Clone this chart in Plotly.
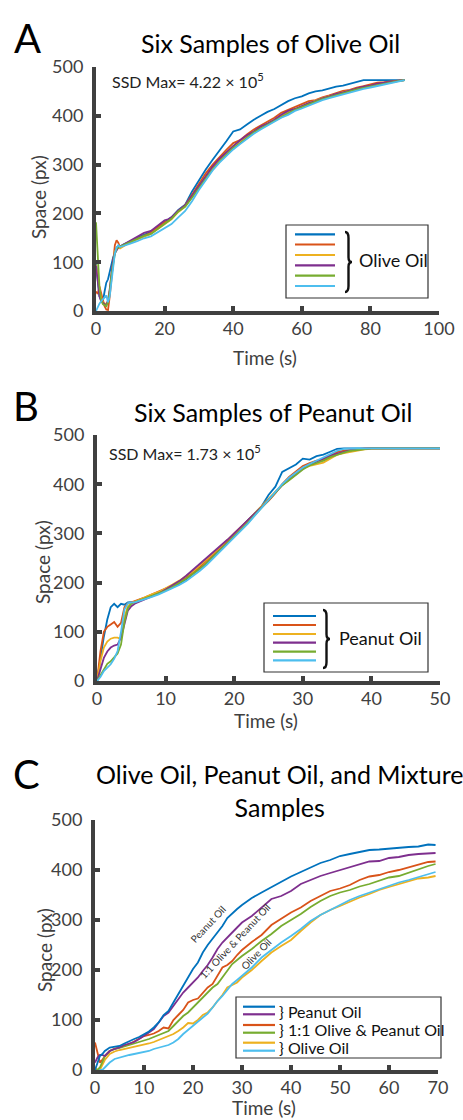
import plotly.graph_objects as go

# ---------------- DATA ----------------
# Panel A: six olive-oil samples
tA = [0, 0.5, 1, 1.5, 2, 2.5, 3, 3.5, 4, 4.5, 5, 5.5, 6, 6.5, 7, 8, 9, 10, 12, 14, 16, 18, 20, 21, 22, 24, 25, 26,
      28, 30, 32, 34, 36, 38, 40, 42, 44, 46, 48, 50, 52, 54, 56, 58, 60, 62, 64, 66, 68, 70, 72, 74, 76, 78, 80,
      82, 84, 86, 88, 90]
olive_A1 = [100, 60, 30, 22, 20, 40, 58, 65, 82, 98, 110, 118, 130, 133, 132, 136, 139, 143, 150, 156, 162, 172, 182,
            186, 192, 207, 212, 218, 245, 268, 290, 310, 328, 348, 368, 372, 382, 392, 400, 408, 414, 422, 430, 436,
            440, 446, 450, 452, 456, 460, 462, 466, 470, 473, 473, 473, 473, 473, 473, 473]
olive_A2 = [40, 35, 50, 35, 20, 10, 3, 2, 30, 70, 110, 135, 145, 140, 130, 134, 137, 141, 148, 154, 160, 172, 182, 184,
            190, 205, 211, 217, 238, 260, 282, 300, 316, 330, 344, 350, 362, 372, 380, 388, 396, 406, 412, 418, 425,
            430, 432, 438, 442, 446, 451, 453, 458, 461, 464, 468, 469, 471, 472, 473]
olive_A3 = [95, 70, 40, 25, 18, 15, 14, 20, 40, 75, 105, 122, 128, 130, 128, 133, 137, 141, 147, 153, 158, 168, 178,
            183, 188, 203, 208, 214, 234, 256, 276, 294, 310, 325, 338, 348, 358, 368, 376, 384, 392, 400, 407, 414,
            420, 425, 431, 436, 440, 444, 449, 452, 455, 458, 461, 464, 467, 469, 471, 473]
olive_A4 = [93, 55, 30, 20, 16, 14, 12, 22, 45, 80, 105, 118, 125, 130, 132, 136, 140, 145, 152, 160, 164, 176, 186,
            188, 192, 206, 212, 216, 236, 256, 276, 296, 312, 326, 338, 350, 360, 368, 378, 384, 392, 402, 410, 414,
            420, 426, 430, 436, 440, 445, 448, 452, 456, 460, 462, 466, 468, 470, 472, 473]
olive_A5 = [182, 110, 50, 22, 14, 12, 10, 18, 40, 72, 100, 118, 127, 131, 132, 135, 138, 142, 148, 154, 158, 168, 178,
            183, 189, 204, 209, 214, 232, 252, 272, 290, 306, 320, 334, 344, 356, 366, 374, 382, 390, 398, 405, 412,
            418, 424, 429, 434, 438, 442, 447, 450, 454, 457, 460, 463, 466, 468, 471, 473]
olive_A6 = [0, 8, 15, 20, 25, 28, 32, 18, 30, 60, 95, 118, 130, 135, 131, 133, 135, 138, 143, 149, 153, 161, 170, 174,
            178, 192, 198, 205, 225, 248, 268, 288, 304, 318, 331, 342, 353, 363, 372, 380, 388, 396, 402, 410, 415,
            421, 426, 432, 436, 440, 444, 448, 451, 455, 458, 461, 464, 467, 470, 473]

# Panel B: six peanut-oil samples
tB = [0, 0.5, 1, 1.5, 2, 2.5, 3, 3.5, 4, 4.5, 5, 5.5, 6, 7, 8, 9, 10, 11, 12, 13, 14, 15, 16, 17, 18, 19, 20, 21, 22,
      23, 24, 25, 26, 27, 28, 29, 30, 31, 32, 33, 34, 35, 36, 37, 38, 39, 40, 42, 44, 46, 48, 50]
peanut_B1 = [0, 45, 90, 125, 150, 157, 150, 157, 155, 160, 160, 161, 164, 169, 174, 178, 184, 190, 198, 207, 218, 228,
             240, 254, 267, 281, 296, 311, 327, 341, 355, 378, 395, 425, 432, 440, 452, 450, 457, 460, 466, 472, 473,
             473, 473, 473, 473, 473, 473, 473, 473, 473]
peanut_B2 = [0, 60, 100, 110, 115, 120, 110, 118, 150, 158, 160, 162, 165, 170, 176, 181, 188, 194, 202, 210, 221, 232,
             245, 258, 272, 285, 300, 313, 327, 340, 352, 366, 382, 400, 415, 426, 437, 443, 448, 450, 458, 465, 468,
             470, 472, 473, 473, 473, 473, 473, 473, 473]
peanut_B3 = [0, 40, 68, 80, 86, 88, 88, 85, 130, 152, 158, 161, 165, 170, 176, 181, 188, 196, 204, 213, 223, 235, 247,
             260, 273, 286, 298, 312, 326, 341, 356, 370, 385, 398, 410, 422, 432, 437, 440, 444, 452, 460, 463, 466,
             469, 471, 472, 473, 473, 473, 473, 473]
peanut_B4 = [0, 25, 47, 60, 68, 72, 74, 88, 115, 143, 152, 157, 160, 166, 172, 178, 186, 194, 203, 214, 226, 238, 250,
             262, 274, 287, 300, 313, 327, 341, 354, 368, 383, 398, 410, 420, 432, 440, 446, 452, 458, 462, 466, 469,
             471, 472, 473, 473, 473, 473, 473, 473]
peanut_B5 = [0, 12, 26, 35, 40, 48, 56, 74, 120, 148, 157, 160, 163, 168, 173, 178, 184, 191, 199, 208, 218, 228, 240,
             253, 266, 280, 294, 307, 322, 337, 352, 368, 384, 398, 408, 420, 430, 438, 443, 448, 455, 460, 464, 468,
             470, 472, 473, 473, 473, 473, 473, 473]
peanut_B6 = [0, 8, 20, 27, 34, 45, 61, 100, 145, 158, 160, 160, 162, 166, 171, 176, 182, 188, 195, 203, 213, 224, 236,
             250, 264, 278, 292, 305, 320, 336, 352, 367, 384, 400, 413, 424, 434, 441, 448, 455, 462, 468, 472, 473,
             473, 473, 473, 473, 473, 473, 473, 473]

# Panel C: olive, peanut and 1:1 mixture samples
tC = [0, 0.5, 1, 1.5, 2, 3, 4, 5, 6, 7, 8, 9, 10, 11, 12, 13, 14, 15, 16, 17, 18, 19, 20, 21, 22, 23, 24, 25, 26, 27,
      28, 29, 30, 32, 34, 36, 38, 40, 42, 44, 46, 48, 50, 52, 54, 56, 58, 60, 62, 64, 66, 68, 69.5]
peanut_C1 = [0, 15, 28, 32, 38, 45, 46, 48, 53, 58, 62, 66, 72, 77, 85, 95, 110, 118, 135, 152, 168, 186, 202, 215,
             235, 250, 262, 275, 288, 304, 314, 322, 330, 344, 355, 366, 376, 387, 396, 405, 414, 420, 428, 432, 436,
             440, 441, 443, 444, 446, 447, 451, 450]
peanut_C2 = [15, 25, 30, 30, 28, 38, 42, 45, 50, 53, 56, 62, 68, 75, 82, 95, 108, 115, 128, 142, 155, 165, 175, 185,
             198, 210, 225, 242, 255, 266, 275, 285, 295, 308, 325, 342, 348, 358, 372, 380, 388, 394, 400, 405, 412,
             417, 418, 424, 426, 430, 432, 434, 434]
mix_C1 = [55, 35, 15, 20, 28, 38, 43, 45, 48, 52, 57, 62, 68, 70, 73, 78, 85, 83, 100, 110, 120, 135, 140, 143, 155,
          165, 172, 190, 205, 210, 218, 230, 240, 256, 270, 290, 302, 315, 325, 338, 348, 358, 363, 370, 380, 387, 390,
          396, 400, 405, 410, 416, 417]
mix_C2 = [0, 0, 5, 18, 27, 38, 42, 44, 47, 50, 52, 55, 58, 62, 66, 70, 74, 78, 88, 98, 108, 115, 125, 135, 145, 157,
          165, 172, 185, 200, 212, 220, 228, 242, 258, 272, 288, 300, 312, 326, 338, 348, 355, 360, 367, 372, 378, 385,
          388, 395, 402, 408, 412]
olive_C1 = [5, 0, 0, 10, 20, 32, 37, 40, 42, 44, 46, 48, 50, 53, 56, 60, 64, 67, 72, 78, 85, 94, 93, 100, 110, 115,
            125, 138, 150, 165, 170, 175, 185, 200, 218, 235, 248, 260, 278, 295, 310, 320, 328, 337, 345, 352, 360,
            366, 372, 378, 383, 385, 388]
olive_C2 = [0, 0, 0, 0, 5, 15, 22, 25, 28, 30, 32, 34, 36, 38, 42, 45, 48, 50, 55, 62, 72, 80, 88, 96, 105, 113, 125,
            138, 148, 160, 172, 180, 188, 205, 225, 240, 255, 268, 282, 298, 310, 320, 330, 340, 348, 355, 362, 368,
            375, 380, 386, 392, 396]

xticks_A = [0, 20, 40, 60, 80, 100]
xticks_B = [0, 10, 20, 30, 40, 50]
xticks_C = [0, 10, 20, 30, 40, 50, 60, 70]
yticks = [0, 100, 200, 300, 400, 500]

titles = ["Six Samples of Olive Oil", "Six Samples of Peanut Oil", "Olive Oil, Peanut Oil, and Mixture<br>Samples"]
ssd_texts = ["SSD Max= 4.22 \u00d7 10<sup>5</sup>", "SSD Max= 1.73 \u00d7 10<sup>5</sup>"]

# ---------------- STYLE ----------------
W, H = 463, 1120
FONT = "Lato"
AX = "#404040"
C_BLUE, C_RED, C_YEL, C_PUR, C_GRN, C_CYN = "#0072BD", "#D95319", "#EDB120", "#7E2F8E", "#77AC30", "#4DBEEE"
six_colors = [C_BLUE, C_RED, C_YEL, C_PUR, C_GRN, C_CYN]


def px(x):
    return x / W


def py(y):
    return 1 - y / H


fig = go.Figure()

for ys, c in zip([olive_A1, olive_A2, olive_A3, olive_A4, olive_A5, olive_A6], six_colors):
    fig.add_trace(go.Scatter(x=tA, y=ys, mode="lines", line=dict(color=c, width=1.8),
                             xaxis="x", yaxis="y", showlegend=False))
for ys, c in zip([peanut_B1, peanut_B2, peanut_B3, peanut_B4, peanut_B5, peanut_B6], six_colors):
    fig.add_trace(go.Scatter(x=tB, y=ys, mode="lines", line=dict(color=c, width=1.8),
                             xaxis="x2", yaxis="y2", showlegend=False))
c_series = [(olive_C1, C_YEL), (olive_C2, C_CYN), (mix_C1, C_RED), (mix_C2, C_GRN),
            (peanut_C2, C_PUR), (peanut_C1, C_BLUE)]
for ys, c in c_series:
    fig.add_trace(go.Scatter(x=tC, y=ys, mode="lines", line=dict(color=c, width=1.8),
                             xaxis="x3", yaxis="y3", showlegend=False))

# axes: pixel boxes (left, right, top, bottom)
boxes = [(96, 439, 67, 311), (97, 440, 435, 681), (95, 438, 820, 1070)]
xranges = [[0, 100], [0, 50], [0, 70]]
xtickss = [xticks_A, xticks_B, xticks_C]


def axis_common():
    return dict(showline=True, linecolor=AX, linewidth=4, ticks="inside", ticklen=5, tickwidth=4,
                tickcolor=AX, showgrid=False, zeroline=False, mirror=False, automargin=False,
                tickfont=dict(family=FONT, size=18, color=AX))


layout_axes = {}
for i, ((l, r, t, b), xr, xt) in enumerate(zip(boxes, xranges, xtickss)):
    sfx = "" if i == 0 else str(i + 1)
    xa = axis_common()
    xa.update(domain=[px(l), px(r)], range=xr, tickvals=xt, anchor="y" + sfx, ticklabelstandoff=-2)
    ya = axis_common()
    ya.update(domain=[py(b), py(t)], range=[0, 500], tickvals=yticks, anchor="x" + sfx, ticklabelstandoff=5)
    layout_axes["xaxis" + sfx] = xa
    layout_axes["yaxis" + sfx] = ya

ann = []


def text(x, y, s, size, color="#000", xanchor="center", angle=0, yanchor="middle"):
    ann.append(dict(x=px(x), y=py(y), xref="paper", yref="paper", text=s, showarrow=False,
                    xanchor=xanchor, yanchor=yanchor, textangle=angle,
                    font=dict(family=FONT, size=size, color=color)))


# panel letters
text(27, 38, "A", 40)
text(26, 406, "B", 40)
text(26, 774, "C", 40)
# titles
text(270, 43, titles[0], 25)
text(273, 412, titles[1], 25)
ann.append(dict(x=px(280), y=py(790), xref="paper", yref="paper", text=titles[2], showarrow=False,
                xanchor="center", yanchor="middle", align="center",
                font=dict(family=FONT, size=25, color="#000")))
# axis titles
for (l, r, t, b), yc, xc, xtc in [((96, 439, 67, 311), 197, 38, 357),
                                  ((97, 440, 435, 681), 562, 42, 720),
                                  ((95, 438, 820, 1070), 950, 44, 1107)]:
    text(xc, yc, "Space (px)", 19, AX, angle=-90)
    text((l + r) / 2 - 3, xtc, "Time (s)", 19, AX)
# SSD annotations
text(110, 81, ssd_texts[0], 16, "#222", xanchor="left")
text(107, 452, ssd_texts[1], 16, "#222", xanchor="left")
# curve labels in C
text(208, 924, "Peanut Oil", 10, "#333", angle=-47)
text(235, 941, "1:1 Olive &amp; Peanut Oil", 10, "#333", angle=-47)
text(256, 954, "Olive Oil", 10, "#333", angle=-46)

shapes = []


def rect(l, t, r, b):
    shapes.append(dict(type="rect", xref="paper", yref="paper", x0=px(l), x1=px(r), y0=py(b), y1=py(t),
                       line=dict(color="#333", width=1.2), fillcolor="white", layer="above"))


def hline(x0, x1, y, c):
    shapes.append(dict(type="line", xref="paper", yref="paper", x0=px(x0), x1=px(x1), y0=py(y), y1=py(y),
                       line=dict(color=c, width=2.2), layer="above"))


def brace(x, y0, y1, w):
    h = y1 - y0
    ym = (y0 + y1) / 2
    xm = x + w * 0.5
    pts = [("M", [(x, y0)]),
           ("Q", [(xm, y0), (xm, y0 + h * 0.1)]),
           ("L", [(xm, ym - h * 0.08)]),
           ("Q", [(xm, ym), (x + w, ym)]),
           ("Q", [(xm, ym), (xm, ym + h * 0.08)]),
           ("L", [(xm, y1 - h * 0.1)]),
           ("Q", [(xm, y1), (x, y1)])]
    path = " ".join(cmd + " " + " ".join(f"{px(a):.5f},{py(b):.5f}" for a, b in p) for cmd, p in pts)
    shapes.append(dict(type="path", xref="paper", yref="paper", path=path,
                       line=dict(color="#111", width=2.4), layer="above"))


# legend A
rect(286, 225, 428, 298)
for yy, c in zip([234.3, 244.5, 255, 265.3, 275.7, 286], six_colors):
    hline(295, 335, yy, c)
brace(345, 232, 292, 7)
text(357, 260, "Olive Oil", 18, "#111", xanchor="left")

# legend B
rect(264, 603, 428, 672)
for yy, c in zip([616, 625, 634, 642.7, 651.7, 660.3], six_colors):
    hline(273, 316, yy, c)
brace(323, 610, 668, 7)
text(337, 638, "Peanut Oil", 18, "#111", xanchor="left")

# legend C
rect(236, 997, 441, 1058)
for yy, c in zip([1006.7, 1014.3, 1025, 1032.7, 1042.7, 1050.7],
                 [C_BLUE, C_PUR, C_RED, C_GRN, C_YEL, C_CYN]):
    hline(243, 275, yy, c)
text(277, 1011.5, "} Peanut Oil", 16, "#111", xanchor="left")
text(277, 1029.5, "} 1:1 Olive &amp; Peanut Oil", 16, "#111", xanchor="left")
text(277, 1047, "} Olive Oil", 16, "#111", xanchor="left")

fig.update_layout(width=W, height=H, margin=dict(l=0, r=0, t=0, b=0, pad=0), plot_bgcolor="white",
                  paper_bgcolor="white", font=dict(family=FONT), annotations=ann, shapes=shapes,
                  **layout_axes)

fig.write_html("out.html", config={"displayModeBar": False},
               post_script="document.body.style.margin='0';document.body.style.padding='0';"
                           "document.documentElement.style.overflow='hidden';")
